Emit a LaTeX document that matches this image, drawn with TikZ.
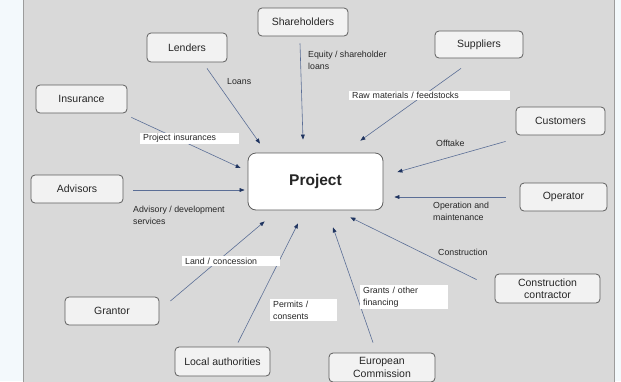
\documentclass[tikz,border=0pt]{standalone}
\usepackage{fontspec}
\setmainfont{Liberation Sans}
\usetikzlibrary{positioning,arrows.meta}

\definecolor{outerbg}{HTML}{F3F9FC}
\definecolor{panelbg}{HTML}{D9D9D9}
\definecolor{panelline}{HTML}{9C9C9C}
\definecolor{boxfill}{HTML}{F2F2F2}
\definecolor{boxline}{HTML}{5E5E5E}
\definecolor{flowline}{HTML}{5B6E96}
\definecolor{tipcol}{HTML}{1F3460}
\definecolor{txt}{HTML}{262626}

\begin{document}
\begin{tikzpicture}[x=1pt,y=-1pt,
  party/.style={draw=boxline,fill=boxfill,rounded corners=4pt,line width=0.8pt,
    font=\fontsize{10.5}{12.5}\selectfont,text=txt,align=center,inner sep=1pt},
  flow/.style={draw=flowline,line width=0.6pt,
    -{Triangle[length=5pt,width=3.8pt,color=tipcol,fill=tipcol]}},
  lbl/.style={font=\fontsize{8.8}{12}\selectfont,text=txt,align=left,inner sep=1pt},
  wlbl/.style={lbl,fill=white,inner xsep=3pt,inner ysep=1.5pt}]
\useasboundingbox (0,0) rectangle (621,381);
% background panel
\fill[outerbg] (0,0) rectangle (621,381);
\fill[panelbg] (23,-2) rectangle (615,383);
\draw[panelline,line width=1.6pt] (23.5,-2) -- (23.5,383);
\draw[panelline,line width=1.2pt] (614.5,-2) -- (614.5,383);

% project in the middle
\node[draw=boxline,fill=white,rounded corners=8pt,line width=0.8pt,minimum width=135pt,minimum height=57pt,
  font=\fontsize{15.5}{17}\selectfont\bfseries,text=txt] (project) at (315.5,181.5) {Project};

% parties round it
\node[party,minimum width=90pt,minimum height=28pt] (shareholders) at (303,22) {Shareholders};
\node[party,minimum width=80pt,minimum height=29pt] (lenders) at (187,47.5) {Lenders};
\node[party,minimum width=88pt,minimum height=27pt] (suppliers) at (479,44.5) {Suppliers};
\node[party,minimum width=91pt,minimum height=28pt] (insurance) at (81.5,99) {Insurance};
\node[party,minimum width=89pt,minimum height=28pt] (customers) at (560.5,121) {Customers};
\node[party,minimum width=92pt,minimum height=28pt] (advisors) at (77,189) {Advisors};
\node[party,minimum width=87pt,minimum height=28pt] (operator) at (563.5,197) {Operator};
\node[party,minimum width=105pt,minimum height=29pt] (contractor) at (547.5,288.5) {Construction\\contractor};
\node[party,minimum width=94pt,minimum height=28pt] (grantor) at (112,311) {Grantor};
\node[party,minimum width=95pt,minimum height=29pt] (localauth) at (222.5,361.5) {Local authorities};
\node[party,minimum width=106pt,minimum height=29pt] (commission) at (382,367.5) {European\\Commission};

% flows into the project
\draw[flow] ([shift={(20,6)}]lenders.south) -- ([shift={(-55.5,-9)}]project.north);
\draw[flow] ([shift={(-3,7)}]shareholders.south) -- ([shift={(-12.5,-13)}]project.north);
\draw[flow] ([shift={(-18,10)}]suppliers.south) -- ([shift={(-23,-12)}]project.north east);
\draw[flow] ([shift={(4,4)}]insurance.south east) -- ([shift={(-7,-13.5)}]project.west);
\draw[flow] ([shift={(-10,6)}]customers.south west) -- ([shift={(14,-9.5)}]project.east);
\draw[flow] ([shift={(10,1)}]advisors.east) -- ([shift={(-3,8.5)}]project.west);
\draw[flow] ([shift={(-14,0)}]operator.west) -- ([shift={(11,15.5)}]project.east);
\draw[flow] ([shift={(-18,6)}]contractor.north west) -- ([shift={(-33,7)}]project.south east);
\draw[flow] ([shift={(11,-10)}]grantor.east) -- ([shift={(17,11)}]project.south west);
\draw[flow] ([shift={(15.5,-4)}]localauth.north) -- ([shift={(-17.5,13)}]project.south);
\draw[flow] ([shift={(-9,-10)}]commission.north) -- ([shift={(17.5,17)}]project.south);

% flow labels
\node[lbl,anchor=west] (loans) at (226,82) {Loans};
\node[lbl,anchor=west] (equity) at (307,60) {Equity / shareholder\\loans};
\node[wlbl,anchor=west,text width=155pt] (raw) at (349,95.5) {Raw materials / feedstocks};
\node[wlbl,anchor=west,text width=93pt] (insurances) at (140,138.5) {Project insurances};
\node[lbl,anchor=west] (offtake) at (435,143) {Offtake};
\node[lbl,anchor=west] (advisory) at (132,215) {Advisory / development\\services};
\node[lbl,anchor=west] (operation) at (432,211.5) {Operation and\\maintenance};
\node[lbl,anchor=west] (construction) at (437,252) {Construction};
\node[wlbl,anchor=west,text width=92pt] (land) at (182,261) {Land / concession};
\node[wlbl,anchor=west,text width=61pt] (permits) at (270,310) {Permits /\\consents};
\node[wlbl,anchor=west,text width=82pt] (grants) at (360,297) {Grants / other\\financing};
\end{tikzpicture}
\end{document}
